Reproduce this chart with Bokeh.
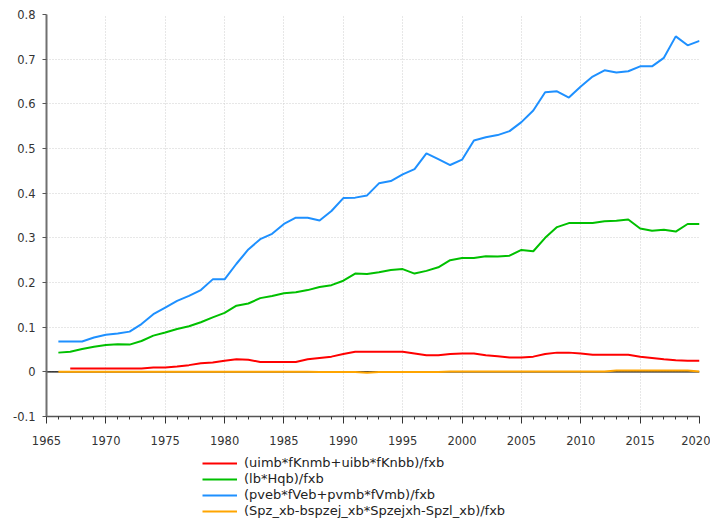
from bokeh.plotting import figure
from bokeh.models import (Range1d, FixedTicker, Span, Legend, LegendItem)
from bokeh.layouts import column
from bokeh.embed import file_html
from bokeh.resources import INLINE

years = list(range(1966, 2021))
red_years = list(range(1967, 2021))

blue = [0.068, 0.068, 0.068, 0.077, 0.083, 0.086, 0.090, 0.107, 0.129, 0.144,
        0.159, 0.170, 0.183, 0.207, 0.207, 0.242, 0.274, 0.297, 0.309, 0.331,
        0.345, 0.345, 0.339, 0.360, 0.389, 0.390, 0.395, 0.422, 0.427, 0.442,
        0.454, 0.489, 0.476, 0.463, 0.475, 0.518, 0.525, 0.530, 0.539, 0.559,
        0.585, 0.626, 0.628, 0.614, 0.639, 0.661, 0.675, 0.670, 0.673, 0.684,
        0.684, 0.703, 0.751, 0.731, 0.741]

green = [0.043, 0.045, 0.051, 0.056, 0.060, 0.062, 0.061, 0.069, 0.081, 0.088,
         0.096, 0.102, 0.111, 0.122, 0.132, 0.148, 0.153, 0.165, 0.170, 0.176,
         0.178, 0.183, 0.190, 0.194, 0.204, 0.220, 0.219, 0.223, 0.228, 0.230,
         0.220, 0.226, 0.234, 0.250, 0.255, 0.255, 0.259, 0.258, 0.260, 0.273,
         0.270, 0.300, 0.324, 0.333, 0.333, 0.333, 0.337, 0.338, 0.341, 0.321,
         0.316, 0.318, 0.314, 0.331, 0.331]

red = [0.0075, 0.0075, 0.0075, 0.0075, 0.0075, 0.0075, 0.0075, 0.0097, 0.0097,
       0.012, 0.015, 0.019, 0.021, 0.025, 0.028, 0.027, 0.022, 0.022, 0.022,
       0.022, 0.028, 0.031, 0.034, 0.040, 0.045, 0.045, 0.045, 0.045, 0.045,
       0.041, 0.037, 0.037, 0.040, 0.041, 0.041, 0.037, 0.035, 0.032, 0.032,
       0.034, 0.040, 0.043, 0.043, 0.041, 0.038, 0.038, 0.038, 0.038, 0.034,
       0.031, 0.028, 0.026, 0.025, 0.025]

orange = [0.0, 0.0, 0.0, 0.0, 0.0, 0.0, 0.0, 0.0, 0.0, 0.0, 0.0,
          0.0, 0.0, 0.0, 0.0, 0.0, 0.0, 0.0, 0.0, 0.0, 0.0, 0.0,
          -0.0005, -0.0005, -0.0005, -0.0005, -0.002,
          -0.0005, -0.0005, -0.0005, -0.0005, -0.0005, -0.0005,
          0.0005, 0.0005, 0.0005, 0.0005, 0.0005, 0.0005, 0.0005,
          0.0005, 0.0005, 0.0005, 0.0005, 0.0005, 0.0005, 0.0005,
          0.003, 0.003, 0.003, 0.003, 0.003, 0.003, 0.003, 0.001]

labels = ["(uimb*fKnmb+uibb*fKnbb)/fxb", "(lb*Hqb)/fxb",
          "(pveb*fVeb+pvmb*fVmb)/fxb", "(Spz_xb-bspzej_xb*Spzejxh-Spzl_xb)/fxb"]
colors = ["#FF0000", "#00C000", "#1E90FF", "#FFA500"]

x_ticks = [1965, 1970, 1975, 1980, 1985, 1990, 1995, 2000, 2005, 2010, 2015, 2020]
y_ticks = [-0.1, 0, 0.1, 0.2, 0.3, 0.4, 0.5, 0.6, 0.7, 0.8]
y_tick_labels = ["-0.1", "0", "0.1", "0.2", "0.3", "0.4", "0.5", "0.6", "0.7", "0.8"]

FONT = "DejaVu Sans"

p = figure(width=710, height=452, output_backend="svg", toolbar_location=None,
           x_range=Range1d(1965, 2020), y_range=Range1d(-0.1, 0.8),
           min_border_left=46, min_border_right=11, min_border_top=14,
           min_border_bottom=36, x_axis_location="below")
p.outline_line_color = None
p.background_fill_color = "white"
p.border_fill_color = "white"

minor = list(range(1965, 2021))
p.xaxis.ticker = FixedTicker(ticks=x_ticks, minor_ticks=minor)
p.yaxis.ticker = FixedTicker(ticks=y_ticks)
p.yaxis.major_label_overrides = {t: l for t, l in zip(y_ticks, y_tick_labels)}
for ax in (p.xaxis[0], p.yaxis[0]):
    ax.major_label_text_font = FONT
    ax.major_label_text_font_size = "11.5px"
    ax.major_label_text_color = "#333333"
    ax.major_tick_in = 0
    ax.minor_tick_in = 0
p.xaxis.axis_line_color = "#555555"
p.xaxis.axis_line_width = 1.5
p.xaxis.major_tick_line_color = "#333333"
p.xaxis.major_tick_out = 7
p.xaxis.minor_tick_out = 3
p.xaxis.minor_tick_line_color = "#333333"
p.xaxis.major_label_standoff = 12
p.yaxis.axis_line_color = "#707070"
p.yaxis.axis_line_width = 2
p.yaxis.major_tick_line_color = "#555555"
p.yaxis.major_tick_out = 4
p.yaxis.minor_tick_out = 0
p.yaxis.minor_tick_line_color = None
p.yaxis.major_label_standoff = 7

p.xgrid.grid_line_color = "#cfcfcf"
p.xgrid.grid_line_dash = "1 2"
p.ygrid.grid_line_color = "#cfcfcf"
p.ygrid.grid_line_dash = "1 2"

zero = Span(location=0, dimension="width", line_color="black", line_width=1.2)
zero.level = "underlay"
p.add_layout(zero)

series = [(red_years, red), (years, green), (years, blue), (years, orange)]
for (xs, ys), c in zip(series, colors):
    p.line(xs, ys, line_color=c, line_width=2)

# legend panel below the chart (same series, hidden, only used for the key)
q = figure(width=710, height=72, output_backend="svg", toolbar_location=None,
           x_range=Range1d(1965, 2020), y_range=Range1d(-0.1, 0.8),
           min_border=0, x_axis_type=None, y_axis_type=None)
q.outline_line_color = None
q.xgrid.visible = False
q.ygrid.visible = False
items = []
for (xs, ys), c, lab in zip(series, colors, labels):
    r = q.line(xs, ys, line_color=c, line_width=2, visible=False)
    items.append(LegendItem(label=lab, renderers=[r]))

legend = Legend(items=items, location=(156, 5.5), orientation="vertical",
                padding=0, margin=0, spacing=0,
                label_height=16, glyph_height=16, glyph_width=35,
                label_standoff=7, border_line_color=None,
                background_fill_alpha=0, inactive_fill_alpha=0,
                label_text_font=FONT, label_text_font_size="13px",
                label_text_color="#222222", click_policy="none")
q.add_layout(legend, "center")

layout = column(p, q, spacing=0)
open("out.html", "w").write(file_html(layout, INLINE))
